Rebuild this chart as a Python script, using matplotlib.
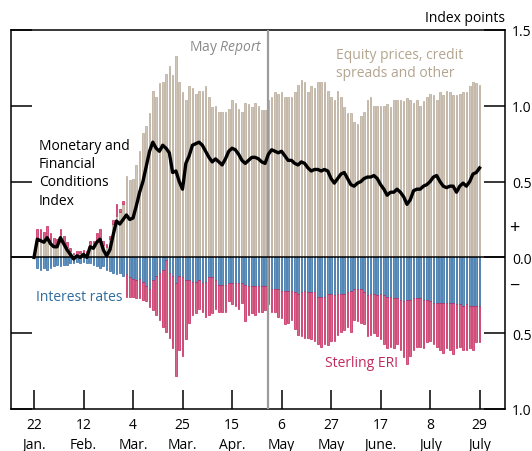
import numpy as np
import matplotlib.pyplot as plt

plt.rcParams['font.family'] = ['Open Sans', 'DejaVu Sans']
plt.rcParams['mathtext.fontset'] = 'custom'
plt.rcParams['mathtext.rm'] = 'Open Sans'
plt.rcParams['mathtext.it'] = 'Open Sans:italic'

# daily contributions (business days from 22 Jan), index points
equity = [
    0.00, 0.11, 0.12, 0.11, 0.12, 0.10, 0.08, 0.08, 0.10, 0.09,
    0.07, 0.04, 0.02, 0.02, 0.03, 0.03, 0.02, 0.07, 0.07, 0.10,
    0.12, 0.08, 0.07, 0.12, 0.22, 0.27, 0.30, 0.35, 0.54, 0.51,
    0.52, 0.61, 0.70, 0.82, 0.87, 0.95, 1.10, 1.06, 1.15, 1.16,
    1.21, 1.26, 1.20, 1.33, 1.16, 1.09, 1.04, 1.13, 1.12, 1.08,
    1.10, 1.10, 1.13, 1.06, 0.99, 1.00, 0.96, 0.96, 0.96, 0.98,
    1.04, 1.02, 0.98, 0.96, 1.02, 1.01, 0.99, 1.02, 1.00, 0.97,
    0.97, 1.04, 1.06, 1.09, 1.08, 1.09, 1.06, 1.06, 1.06, 1.09,
    1.14, 1.17, 1.16, 1.09, 1.13, 1.12, 1.16, 1.16, 1.16, 1.10,
    1.06, 1.04, 1.10, 1.06, 0.99, 0.95, 0.95, 0.89, 0.88, 0.93,
    0.96, 1.04, 1.06, 1.00, 1.00, 1.00, 1.00, 1.01, 0.99, 1.04,
    1.04, 1.04, 1.03, 1.05, 1.04, 1.02, 1.04, 1.00, 1.03, 1.06,
    1.08, 1.07, 1.04, 1.09, 1.07, 1.10, 1.09, 1.07, 1.07, 1.08,
    1.09, 1.09, 1.13, 1.16, 1.15, 1.14]

rates = [
    0.00, -0.07, -0.08, -0.07, -0.08, -0.07, -0.06, -0.05, -0.06, -0.05,
    -0.05, -0.04, -0.04, -0.03, -0.04, -0.03, -0.04, -0.04, -0.05, -0.06,
    -0.07, -0.06, -0.08, -0.09, -0.10, -0.11, -0.10, -0.12, -0.11, -0.13,
    -0.14, -0.15, -0.14, -0.16, -0.19, -0.21, -0.15, -0.12, -0.10, -0.08,
    -0.02, -0.10, -0.12, -0.17, -0.12, -0.13, -0.15, -0.15, -0.16, -0.16,
    -0.15, -0.17, -0.16, -0.13, -0.13, -0.15, -0.18, -0.18, -0.18, -0.17,
    -0.17, -0.17, -0.17, -0.17, -0.18, -0.19, -0.19, -0.19, -0.19, -0.19,
    -0.19, -0.20, -0.21, -0.21, -0.21, -0.22, -0.22, -0.22, -0.22, -0.23,
    -0.24, -0.23, -0.22, -0.23, -0.23, -0.23, -0.26, -0.26, -0.26, -0.24,
    -0.24, -0.25, -0.24, -0.24, -0.24, -0.23, -0.22, -0.21, -0.21, -0.21,
    -0.23, -0.25, -0.24, -0.24, -0.25, -0.24, -0.25, -0.26, -0.26, -0.27,
    -0.27, -0.28, -0.29, -0.28, -0.28, -0.27, -0.27, -0.27, -0.28, -0.28,
    -0.29, -0.30, -0.30, -0.30, -0.30, -0.30, -0.30, -0.30, -0.31, -0.31,
    -0.32, -0.31, -0.32, -0.32, -0.32, -0.32]

sterling = [
    0.00, 0.08, 0.07, 0.06, 0.09, 0.06, 0.05, 0.04, 0.09, 0.05,
    0.03, 0.02, 0.01, 0.02, 0.01, 0.02, 0.02, 0.04, 0.04, 0.06,
    0.07, 0.03, 0.02, 0.02, 0.03, 0.08, 0.02, 0.02, -0.15, -0.13,
    -0.12, -0.12, -0.13, -0.12, -0.10, -0.12, -0.20, -0.26, -0.31, -0.38,
    -0.47, -0.43, -0.48, -0.61, -0.49, -0.52, -0.39, -0.28, -0.22, -0.21,
    -0.19, -0.19, -0.23, -0.25, -0.24, -0.19, -0.18, -0.18, -0.18, -0.12,
    -0.14, -0.15, -0.17, -0.13, -0.24, -0.19, -0.18, -0.19, -0.17, -0.17,
    -0.16, -0.11, -0.15, -0.15, -0.18, -0.18, -0.22, -0.21, -0.19, -0.24,
    -0.27, -0.29, -0.31, -0.30, -0.31, -0.32, -0.31, -0.33, -0.31, -0.34,
    -0.31, -0.30, -0.27, -0.25, -0.24, -0.23, -0.27, -0.20, -0.21, -0.22,
    -0.21, -0.27, -0.27, -0.26, -0.27, -0.30, -0.32, -0.34, -0.33, -0.33,
    -0.30, -0.33, -0.37, -0.42, -0.37, -0.34, -0.32, -0.32, -0.32, -0.28,
    -0.26, -0.27, -0.29, -0.31, -0.33, -0.30, -0.31, -0.34, -0.29, -0.28,
    -0.29, -0.30, -0.28, -0.29, -0.24, -0.24]

mfci = [
    0.00, 0.12, 0.11, 0.10, 0.13, 0.09, 0.07, 0.07, 0.13, 0.09,
    0.05, 0.02, -0.01, 0.01, 0.00, 0.02, 0.00, 0.07, 0.06, 0.10,
    0.12, 0.05, 0.01, 0.05, 0.15, 0.24, 0.22, 0.25, 0.28, 0.25,
    0.26, 0.34, 0.43, 0.50, 0.60, 0.70, 0.76, 0.72, 0.70, 0.74,
    0.72, 0.69, 0.56, 0.57, 0.50, 0.45, 0.62, 0.67, 0.74, 0.75,
    0.76, 0.74, 0.70, 0.66, 0.63, 0.65, 0.63, 0.61, 0.65, 0.70,
    0.72, 0.71, 0.68, 0.64, 0.62, 0.64, 0.66, 0.66, 0.65, 0.63,
    0.62, 0.68, 0.71, 0.70, 0.69, 0.70, 0.67, 0.64, 0.64, 0.62,
    0.61, 0.63, 0.62, 0.59, 0.57, 0.58, 0.58, 0.57, 0.58, 0.57,
    0.52, 0.49, 0.52, 0.55, 0.56, 0.52, 0.48, 0.47, 0.49, 0.50,
    0.52, 0.53, 0.53, 0.54, 0.52, 0.48, 0.45, 0.41, 0.43, 0.43,
    0.45, 0.43, 0.40, 0.35, 0.38, 0.44, 0.45, 0.45, 0.47, 0.48,
    0.50, 0.53, 0.54, 0.50, 0.47, 0.46, 0.47, 0.47, 0.43, 0.47,
    0.49, 0.47, 0.50, 0.55, 0.56, 0.59]

tick_pos = [0, 15, 30, 45, 60, 75, 90, 105, 120, 135]
tick_labels = ['22\nJan.', '12\nFeb.', '4\nMar.', '25\nMar.', '15\nApr.',
               '6\nMay', '27\nMay', '17\nJune.', '8\nJuly', '29\nJuly']
y_ticks = [1.5, 1.0, 0.5, 0.0, -0.5, -1.0]
y_labels = ['1.5', '1.0', '0.5', '0.0', '0.5', '1.0']
may_report = 70.8

BEIGE, BEIGE_E = '#cfc5b8', '#b0a28f'
BLUE, BLUE_E = '#6496c3', '#1f5e99'
PINK, PINK_E = '#d4678b', '#c0144e'

x = np.arange(len(mfci))
eq = np.array(equity)
ir = np.array(rates)
fx = np.array(sterling)
up = fx > 0
dn = fx < 0

fig = plt.figure(figsize=(5.32, 4.52), dpi=100)
ax = fig.add_axes([11/532, 42/452, 494/532, 379/452])

bw = 0.5
kw = dict(width=bw, linewidth=0.45)
ax.bar(x[eq > 0], eq[eq > 0], color=BEIGE, edgecolor=BEIGE_E, **kw)
ax.bar(x[up], fx[up], bottom=eq[up], color=PINK, edgecolor=PINK_E, **kw)
ax.bar(x[ir < 0], ir[ir < 0], color=BLUE, edgecolor=BLUE_E, **kw)
ax.bar(x[dn], fx[dn], bottom=ir[dn], color=PINK, edgecolor=PINK_E, **kw)

ax.axvline(may_report, color='#9c9c9c', lw=1.6, zorder=3)
ax.axhline(0, color='black', lw=1.1, zorder=3)
ax.plot(x, mfci, color='black', lw=2.4, zorder=4, solid_joinstyle='round')

ax.set_xlim(-6.97, 142.7)
ax.set_ylim(-1.0, 1.5)

ax.set_xticks(tick_pos)
ax.set_xticklabels(tick_labels, fontsize=10, linespacing=1.45)
ax.tick_params(axis='x', direction='in', length=14, width=1.1, pad=6)
ax.set_yticks(y_ticks)
ax.set_yticklabels(y_labels, fontsize=10)
ax.tick_params(axis='y', direction='in', length=15, width=1.1, pad=5,
               left=True, right=True, labelleft=False, labelright=True)
for s in ax.spines.values():
    s.set_linewidth(1.1)

# annotations
ax.text(69.2, 1.39, r'May $\mathit{Report}$', color='#8a8a8a', fontsize=10,
        ha='right', va='center')
ax.text(91.5, 1.39, 'Equity prices, credit\nspreads and other', color='#b3a58f',
        fontsize=10, ha='left', va='top', linespacing=1.3)
ax.text(1.5, 0.79, 'Monetary and\nFinancial\nConditions\nIndex', color='black',
        fontsize=10, ha='left', va='top', linespacing=1.3)
ax.text(0.6, -0.255, 'Interest rates', color='#2f6c9f', fontsize=10,
        ha='left', va='center')
ax.text(88.2, -0.69, 'Sterling ERI', color='#c22a5c', fontsize=10,
        ha='left', va='center')
ax.text(145.5, 0.2, '+', fontsize=13, ha='center', va='center', clip_on=False)
ax.text(145.5, -0.18, '\u2212', fontsize=13, ha='center', va='center', clip_on=False)
ax.text(1.0, 1.032, 'Index points', transform=ax.transAxes, fontsize=10,
        ha='right', va='center')

fig.savefig('out.png', dpi=100)
